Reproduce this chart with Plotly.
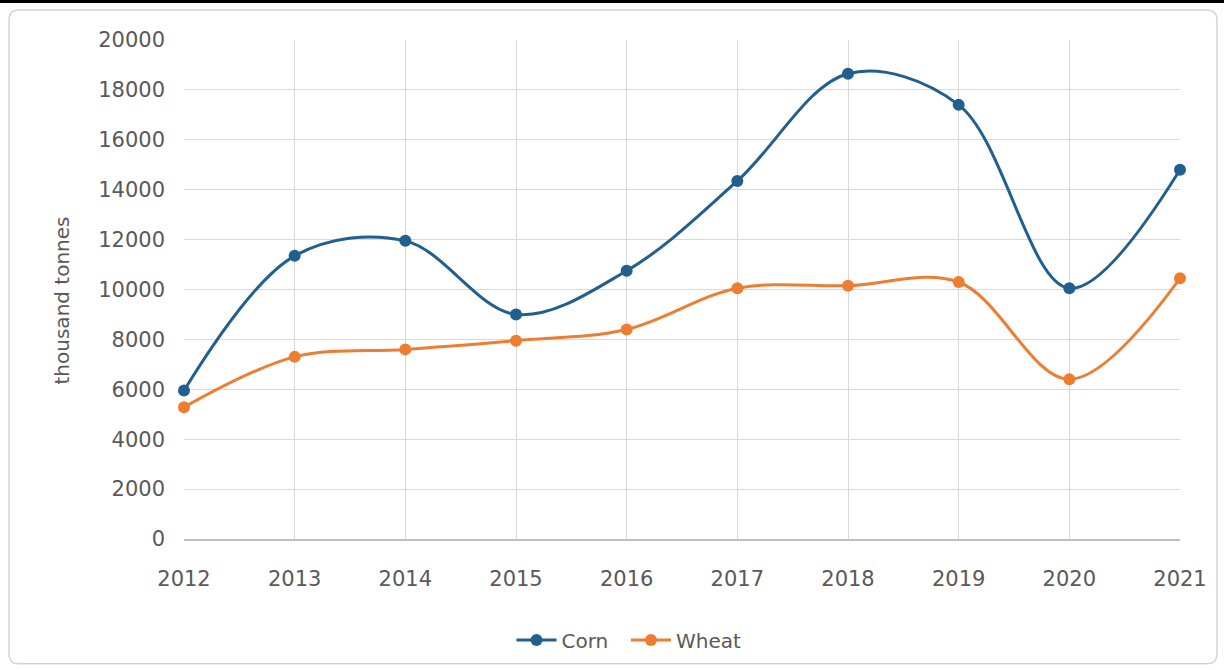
import plotly.graph_objects as go

years = [2012, 2013, 2014, 2015, 2016, 2017, 2018, 2019, 2020, 2021]
corn = [5950, 11350, 11950, 9000, 10750, 14350, 18650, 17400, 10050, 14800]
wheat = [5280, 7300, 7600, 7950, 8400, 10050, 10150, 10300, 6400, 10450]
y_ticks = [0, 2000, 4000, 6000, 8000, 10000, 12000, 14000, 16000, 18000, 20000]

CORN_C = "#215f8e"
WHEAT_C = "#ed7d31"
TXT = "#595959"
FONT = "DejaVu Sans"

fig = go.Figure()
fig.add_trace(go.Scatter(x=years, y=corn, name="Corn  ", mode="lines+markers",
                         line=dict(color=CORN_C, width=3, shape="spline", smoothing=1),
                         marker=dict(color=CORN_C, size=12), cliponaxis=False))
fig.add_trace(go.Scatter(x=years, y=wheat, name="Wheat", mode="lines+markers",
                         line=dict(color=WHEAT_C, width=3, shape="spline", smoothing=1),
                         marker=dict(color=WHEAT_C, size=12), cliponaxis=False))

# page decorations (paper coordinates computed from pixel positions)
L, R, T, B = 184, 44, 40, 130
W, H = 1224, 670
pw, ph = W - L - R, H - T - B
def px(x):
    return (x - L) / pw
def py(y):
    return (H - B - y) / ph

x0, x1, y0, y1 = px(9), px(1217), py(10), py(665)
rx, ry = 10 / pw, 10 / ph
path = (f"M {x0+rx},{y0} L {x1-rx},{y0} Q {x1},{y0} {x1},{y0-ry} "
        f"L {x1},{y1+ry} Q {x1},{y1} {x1-rx},{y1} L {x0+rx},{y1} "
        f"Q {x0},{y1} {x0},{y1+ry} L {x0},{y0-ry} Q {x0},{y0} {x0+rx},{y0} Z")

fig.update_layout(
    width=W, height=H,
    margin=dict(l=L, r=R, t=T, b=B),
    paper_bgcolor="white", plot_bgcolor="white",
    font=dict(family=FONT, size=20, color=TXT),
    shapes=[
        dict(type="path", xref="paper", yref="paper", path=path,
             line=dict(color="#d4d4d4", width=1.5), fillcolor="rgba(0,0,0,0)", layer="below"),
        dict(type="rect", xref="paper", yref="paper", x0=px(0), x1=px(W), y0=py(3), y1=py(0),
             fillcolor="black", line=dict(width=0)),
    ],
    annotations=[
        dict(text="thousand tonnes", xref="paper", yref="paper", x=px(62), y=py(301),
             xanchor="center", yanchor="middle", textangle=-90, showarrow=False,
             font=dict(size=20, color=TXT, family=FONT)),
    ],
    legend=dict(orientation="h", x=px(629), xanchor="center", y=py(640), yanchor="middle",
                font=dict(size=20, color=TXT), itemwidth=40),
    showlegend=True,
)
fig.update_xaxes(range=[2012, 2021], tickvals=years, ticktext=[str(y) for y in years],
                 showgrid=True, gridcolor="#d9d9d9", gridwidth=1,
                 showline=True, linecolor="#bfbfbf", linewidth=1.5,
                 zeroline=False, ticks="", ticklabelstandoff=20,
                 tickfont=dict(size=21, color=TXT, family=FONT))
fig.update_yaxes(range=[0, 20000], tickvals=y_ticks, ticktext=[str(v) for v in y_ticks],
                 showgrid=True, gridcolor="#d9d9d9", gridwidth=1,
                 zeroline=False, ticks="", ticklabelstandoff=18,
                 tickfont=dict(size=21, color=TXT, family=FONT))

fig.write_html("out.html")
